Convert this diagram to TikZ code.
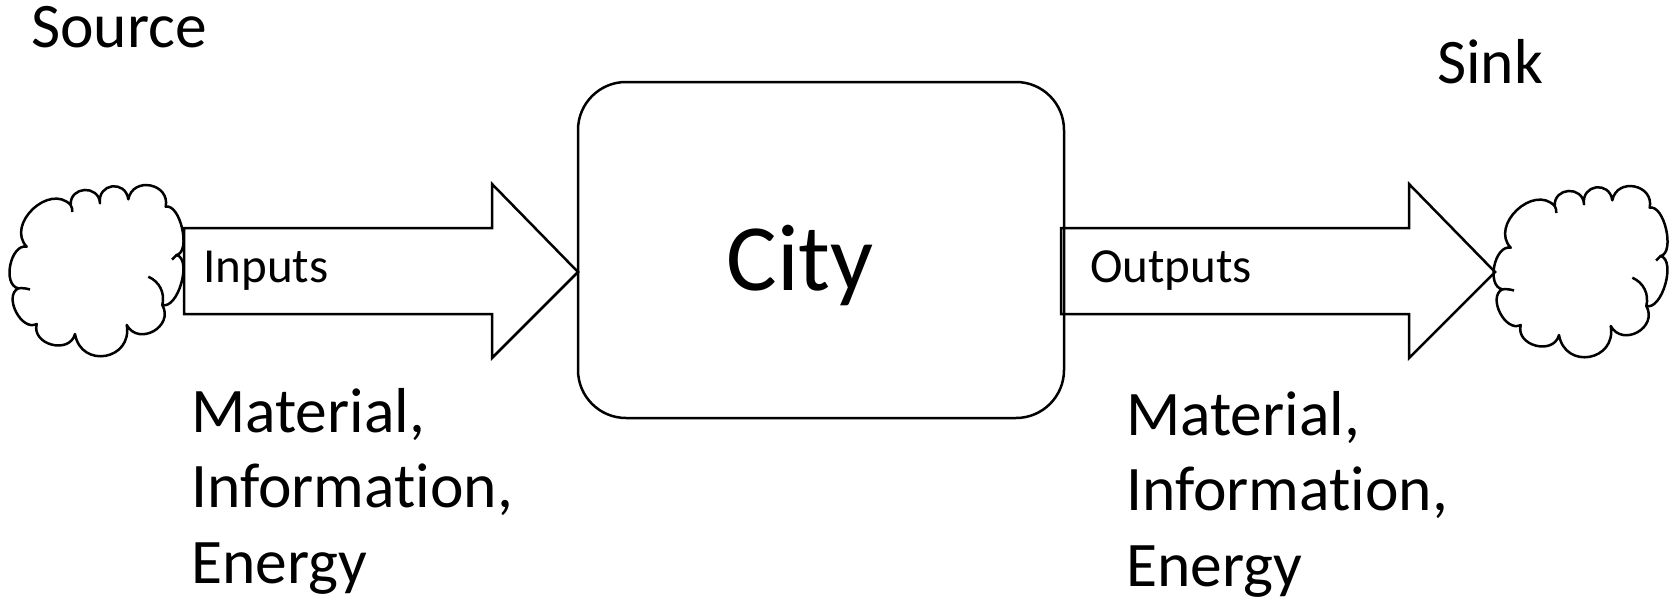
\documentclass[tikz,border=0pt]{standalone}
\usepackage{fontspec}
\setmainfont{Carlito}[Ligatures={NoCommon,NoContextual}]
\usetikzlibrary{positioning}

\tikzset{
  line/.style={line width=2.5pt},
  puffcloud/.pic={
    \draw[line,line join=round] (-70.3,-23.3)
      to[bend left=90,looseness=1.3] (-26.3,-65)
      to[bend left=90,looseness=1.65] (3,-66.7)
      to[bend left=90,looseness=1.8] (31.3,-70.7)
      to[bend left=90,looseness=1.6] (68.7,-63.3)
      to[bend left=90,looseness=0.77] (79.7,-15)
      to[bend left=90,looseness=0.8] (65.3,35)
      to[bend left=90,looseness=1.55] (29.7,55)
      to[bend left=90,looseness=1.74] (-22,64)
      to[bend left=90,looseness=1.39] (-60.3,54)
      to[bend left=90,looseness=1.09] (-78.7,18.3)
      to[bend left=90,looseness=1.0] cycle;
    % inner hooks
    \draw[line] (51.3,6.7) to[bend left=40] (65.3,35);
    \draw[line] (-26.3,-65) to[bend left=15] (-24.7,-58);
    \draw[line] (79.7,-15) to[bend right=10] (75,-10.5);
    \draw[line] (-78.7,18.3) to[bend left=10] (-67,19.5);
  },
  flow/.style={draw,line,line join=miter},
  bigtxt/.style={font=\fontsize{63.5}{75.5}\selectfont,inner sep=0pt,align=left},
  flowtxt/.style={font=\fontsize{49}{58}\selectfont,inner sep=0pt,anchor=base west}
}

\begin{document}
\begin{tikzpicture}[x=1pt,y=-1pt]
\useasboundingbox (0,0) rectangle (1672,602);
\coordinate (source) at (97,270);
\coordinate (sink) at (1581,271);
\pic at (source) {puffcloud};
\pic at (sink) {puffcloud};
\node[draw,line,rounded corners=48pt,minimum width=486pt,
  minimum height=336pt] (city) at (821,250) {};
\node[font=\fontsize{95}{105}\selectfont,inner sep=0pt,anchor=base] (citylabel) at (800,290) {City};
% the two flows
\draw[flow,fill=white] (184,228) -- (492,228) -- (492,184) -- (578,272)
  -- (492,358) -- (492,314) -- (184,314) -- cycle;
\draw[flow] (1061,228) -- (1409,228) -- (1409,184) -- (1495,272)
  -- (1409,358) -- (1409,314) -- (1061,314) -- cycle;
\node[flowtxt] (inlabel) at (203,282) {Inputs};
\node[flowtxt] (outlabel) at (1090,282) {Outputs};
\node[bigtxt,anchor=base west] (srclabel) at (31,48) {Source};
\node[bigtxt,anchor=base west] (sinklabel) at (1437,83) {Sink};
\node[bigtxt,anchor=north west] (inkinds) at (191,388) {Material,\\Information,\\Energy};
\node[bigtxt,anchor=north west] (outkinds) at (1126,391) {Material,\\Information,\\Energy};
\end{tikzpicture}
\end{document}
